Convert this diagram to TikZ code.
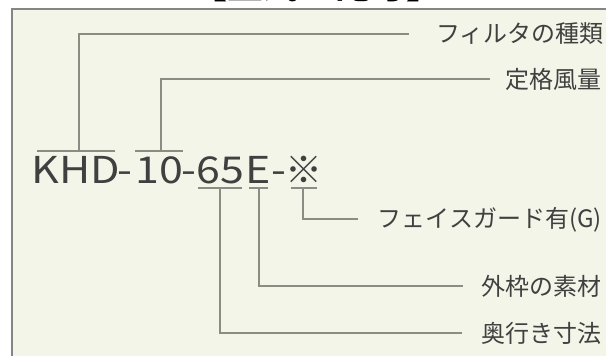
\documentclass[tikz,border=0pt]{standalone}
\usepackage{fontspec}
\setmainfont{Noto Sans CJK JP}
\definecolor{bg}{HTML}{F4F5E9}
\definecolor{framec}{HTML}{858585}
\definecolor{lnc}{HTML}{8C8C84}
\definecolor{txtc}{HTML}{404040}
\newcommand{\widetxt}[1]{\scalebox{1.16}[1]{#1}}
\tikzset{
  mainpart/.style={font=\fontsize{37}{37}\selectfont, text=txtc, anchor=base, inner sep=0pt},
  lab/.style={font=\fontsize{24}{24}\selectfont, text=txtc, anchor=east, inner sep=0pt},
  conn/.style={draw=lnc, line width=1.5pt},
}
\begin{document}
\begin{tikzpicture}[x=1pt,y=-1pt]
\useasboundingbox (0,0) rectangle (606,356);
\fill[white] (0,0) rectangle (606,356);
\fill[bg] (12,9) rectangle (606,356);
\draw[framec, line width=2pt] (12,357) -- (12,9) -- (607,9);
\begin{scope}
  \clip (0,0) rectangle (606,5);
  \node[font=\bfseries\fontsize{36}{36}\selectfont, anchor=base, inner sep=0pt] (title) at (317,-1.5) {【型式の記号】};
\end{scope}
% main code
\node[mainpart] (khd) at (76,183) {\widetxt{KHD}};
\node[mainpart] (d1) at (125,183) {\widetxt{-}};
\node[mainpart] (ten) at (159,183) {\widetxt{10}};
\node[mainpart] (d2) at (189,183) {\widetxt{-}};
\node[mainpart] (sf) at (220,183) {\widetxt{65}};
\node[mainpart] (e) at (258,183) {\widetxt{E}};
\node[mainpart] (d3) at (279,183) {\widetxt{-}};
\node[mainpart] (kome) at (304,183) {※};
% labels
\node[lab] (l1) at (604,34) {フィルタの種類};
\node[lab] (l2) at (602,79) {定格風量};
\node[lab] (l3) at (602,220) {フェイスガード有(G)};
\node[lab] (l4) at (602,286) {外枠の素材};
\node[lab] (l5) at (602,333) {奥行き寸法};
% over/underlines
\draw[conn] (37,151) -- (115,151);
\draw[conn] (135,151) -- (183,151);
\draw[conn] (198,188) -- (242,188);
\draw[conn] (249,188) -- (268,188);
\draw[conn] (291,188) -- (317,188);
% connector ends
\coordinate (s1) at (79,151);  \coordinate (t1) at (409,34);
\coordinate (s2) at (161,151); \coordinate (t2) at (490,79);
\coordinate (s3) at (303,188); \coordinate (t3) at (358,219);
\coordinate (s4) at (259,188); \coordinate (t4) at (463,286);
\coordinate (s5) at (220,188); \coordinate (t5) at (462,333);
\draw[conn] (s1) |- (t1);
\draw[conn] (s2) |- (t2);
\draw[conn] (s3) |- (t3);
\draw[conn] (s4) |- (t4);
\draw[conn] (s5) |- (t5);
\end{tikzpicture}
\end{document}
